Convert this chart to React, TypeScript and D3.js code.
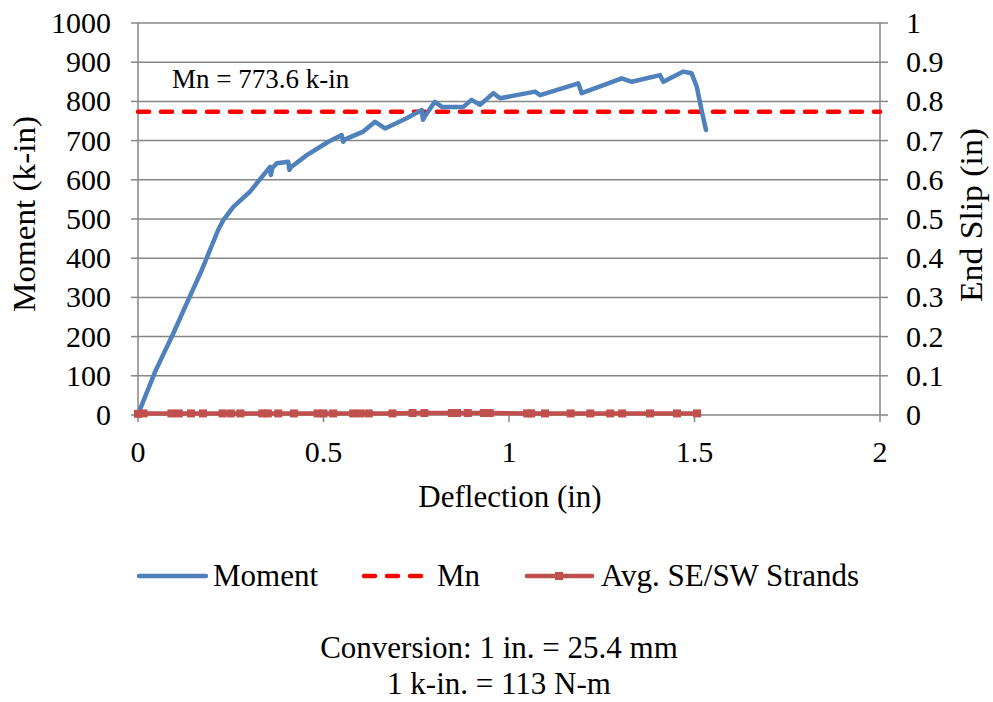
import React from "react";
import * as d3 from "d3";

const momentX = [0, 0.005, 0.046, 0.095, 0.127, 0.172, 0.216, 0.23, 0.257, 0.302, 0.356, 0.358, 0.362, 0.374, 0.405, 0.408, 0.412, 0.455, 0.513, 0.549, 0.553, 0.558, 0.607, 0.639, 0.666, 0.724, 0.765, 0.768, 0.772, 0.8, 0.819, 0.877, 0.899, 0.922, 0.958, 0.976, 1.07, 1.084, 1.187, 1.196, 1.304, 1.331, 1.407, 1.416, 1.47, 1.492, 1.506, 1.519, 1.531];
const momentY = [0, 13, 110, 208, 276, 370, 472, 497, 531, 570, 633, 612, 630, 642, 646, 625, 632, 663, 697, 714, 697, 703, 723, 748, 731, 757, 778, 753, 760, 799, 786, 786, 804, 791, 821, 808, 825, 816, 846, 821, 859, 850, 867, 850, 876, 872, 838, 778, 727];

const slipX = [0, 0.015, 0.09, 0.11, 0.143, 0.175, 0.228, 0.25, 0.276, 0.335, 0.35, 0.378, 0.42, 0.484, 0.5, 0.526, 0.58, 0.6, 0.622, 0.686, 0.74, 0.772, 0.846, 0.86, 0.889, 0.932, 0.948, 1.049, 1.06, 1.097, 1.166, 1.219, 1.273, 1.305, 1.38, 1.453, 1.507];
const slipY = [0.003, 0.004, 0.004, 0.004, 0.004, 0.004, 0.004, 0.004, 0.004, 0.004, 0.004, 0.004, 0.004, 0.004, 0.004, 0.004, 0.004, 0.004, 0.004, 0.004, 0.005, 0.005, 0.005, 0.005, 0.005, 0.005, 0.005, 0.004, 0.004, 0.004, 0.004, 0.004, 0.004, 0.004, 0.004, 0.004, 0.004];

const mnValue = 773.6;
const xTicks = [0, 0.5, 1, 1.5, 2];
const yTicks = [0, 100, 200, 300, 400, 500, 600, 700, 800, 900, 1000];
const y2Ticks = [0, 0.1, 0.2, 0.3, 0.4, 0.5, 0.6, 0.7, 0.8, 0.9, 1];
const legendLabels = ["Moment", "Mn", "Avg. SE/SW Strands"];

const W = 993, H = 702;
const L = 138, R = 880, T = 23, B = 415;
const FONT = "Liberation Serif, Times New Roman, serif";

const Tx = ({ fs = 30, ...props }: any) => (
  <text {...props} style={{ fontFamily: FONT, fontSize: fs }} fill="#000" />
);

export default function App() {
  const x = d3.scaleLinear().domain([0, 2]).range([L, R]);
  const y = d3.scaleLinear().domain([0, 1000]).range([B, T]);
  const y2 = d3.scaleLinear().domain([0, 1]).range([B, T]);
  const momentLine = d3.line<number>().x((_, i) => x(momentX[i])).y((d) => y(d));
  const slipLine = d3.line<number>().x((_, i) => x(slipX[i])).y((d) => y2(d));
  const grid = "#868686";
  const ly = 576;
  return (
    <div style={{ position: "absolute", left: 0, top: 0 }}>
      <svg width={W} height={H} style={{ display: "block", background: "#fff" }}>
        {yTicks.map((t) => (
          <g key={"g" + t}>
            <line x1={L} x2={R} y1={y(t)} y2={y(t)} stroke={grid} strokeWidth={1.5} />
            <line x1={L - 7} x2={L} y1={y(t)} y2={y(t)} stroke={grid} strokeWidth={1.5} />
            <line x1={R} x2={R + 8} y1={y(t)} y2={y(t)} stroke={grid} strokeWidth={1.5} />
            <Tx x={111} y={y(t) + 10} textAnchor="end">{t}</Tx>
          </g>
        ))}
        {y2Ticks.map((t) => (
          <Tx key={"r" + t} x={906} y={y2(t) + 10} textAnchor="start">{String(t)}</Tx>
        ))}
        <line x1={L} x2={L} y1={T} y2={B} stroke={grid} strokeWidth={1.5} />
        <line x1={R} x2={R} y1={T} y2={B} stroke={grid} strokeWidth={1.5} />
        {xTicks.map((t) => (
          <g key={"x" + t}>
            <line x1={x(t)} x2={x(t)} y1={B} y2={B + 7} stroke={grid} strokeWidth={1.5} />
            <Tx x={x(t)} y={462} textAnchor="middle">{String(t)}</Tx>
          </g>
        ))}
        <Tx fs={31} x={510} y={507} textAnchor="middle">Deflection (in)</Tx>
        <Tx fs={31} transform={`translate(35,214) rotate(-90)`} textAnchor="middle" textLength={196} lengthAdjust="spacingAndGlyphs">Moment (k-in)</Tx>
        <Tx fs={31} transform={`translate(982,215) rotate(-90)`} textAnchor="middle" textLength={174} lengthAdjust="spacingAndGlyphs">End Slip (in)</Tx>

        <line x1={x(0)} x2={x(2)} y1={y(mnValue)} y2={y(mnValue)} stroke="#FF0000" strokeWidth={4.5} strokeDasharray="11,12" strokeLinecap="round" />
        <path d={momentLine(momentY) || ""} fill="none" stroke="#4F81BD" strokeWidth={4.5} strokeLinejoin="round" strokeLinecap="round" />
        <path d={slipLine(slipY) || ""} fill="none" stroke="#C0504D" strokeWidth={4.5} />
        {slipY.map((v, i) => (
          <rect key={"m" + i} x={x(slipX[i]) - 4} y={y2(v) - 4} width={8} height={8} fill="#C0504D" />
        ))}
        <Tx fs={27} x={172} y={88}>Mn = {mnValue} k-in</Tx>

        <g>
          <line x1={139} x2={206} y1={ly} y2={ly} stroke="#4F81BD" strokeWidth={4.5} strokeLinecap="round" />
          <Tx fs={31} x={213} y={ly + 10}>{legendLabels[0]}</Tx>
          <line x1={364} x2={423} y1={ly} y2={ly} stroke="#FF0000" strokeWidth={4.5} strokeDasharray="11,12" strokeLinecap="round" />
          <Tx fs={31} x={437} y={ly + 10}>{legendLabels[1]}</Tx>
          <line x1={527} x2={592} y1={ly} y2={ly} stroke="#C0504D" strokeWidth={4.5} strokeLinecap="round" />
          <rect x={555} y={ly - 4} width={8} height={8} fill="#C0504D" />
          <Tx fs={31} x={601} y={ly + 10}>{legendLabels[2]}</Tx>
        </g>

        <Tx fs={31} x={499} y={658} textAnchor="middle">Conversion: 1 in. = 25.4 mm</Tx>
        <Tx fs={31} x={499} y={694} textAnchor="middle">1 k-in. = 113 N-m</Tx>
      </svg>
    </div>
  );
}
